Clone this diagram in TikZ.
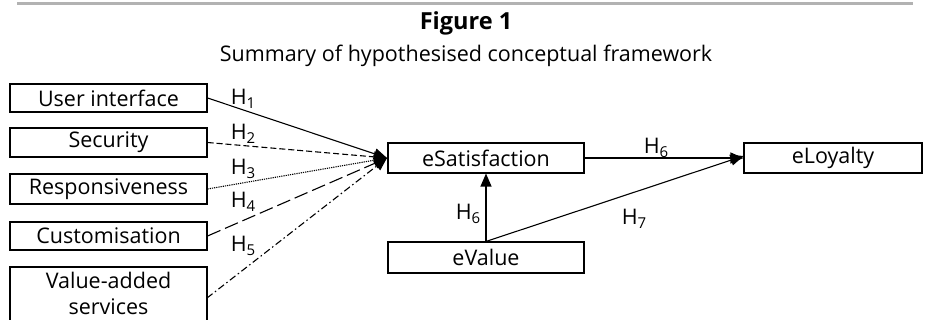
\documentclass[tikz,border=0pt]{standalone}
\usepackage{fontspec}
\setmainfont{Open Sans}
\usetikzlibrary{arrows.meta}
\newcommand{\hsub}[1]{H\raisebox{-0.4ex}{\fontsize{15}{15}\selectfont #1}}
\begin{document}
\begin{tikzpicture}[x=1pt,y=-1pt,
  box/.style={draw,line width=1.1pt,inner sep=0pt,font=\fontsize{21.5}{24}\selectfont},
  lab/.style={font=\fontsize{21.5}{24}\selectfont,inner sep=0pt},
  conn/.style={line width=1.1pt,-{Triangle[length=13pt,width=11pt]}}]
\useasboundingbox (0,0) rectangle (931,320);
\draw[line width=3pt,gray!60] (17,4) -- (913,4);
\node[font=\fontsize{23.5}{26}\selectfont\bfseries,anchor=base,inner sep=0pt] (fig) at (466,30) {Figure 1};
\node[font=\fontsize{21.5}{24}\selectfont,anchor=base,inner sep=0pt] (cap) at (466,62) {Summary of hypothesised conceptual framework};
\node[box,minimum width=197pt,minimum height=28pt] (ui) at (108.5,98) {User interface};
\node[box,minimum width=197pt,minimum height=29pt] (sec) at (108.5,142.5) {Security};
\node[box,minimum width=197pt,minimum height=30pt] (resp) at (108.5,189) {Responsiveness};
\node[box,minimum width=197pt,minimum height=28pt] (cust) at (108.5,236) {Customisation};
\coordinate (vaTL) at (10,267);
\coordinate (vaTR) at (207,267);
\draw[line width=1.1pt] (10,321) -- (vaTL) -- (vaTR) -- (207,321);
\node[lab,anchor=base] (va1) at (108.5,288) {Value-added};
\node[lab,anchor=base] (va2) at (108.5,314) {services};
\coordinate (vaR) at (207,298);
\node[box,minimum width=196pt,minimum height=30pt] (sat) at (486,158) {eSatisfaction};
\node[box,minimum width=196pt,minimum height=31pt] (val) at (486,257.5) {eValue};
\node[box,minimum width=178pt,minimum height=30pt] (loy) at (833,158) {eLoyalty};
\coordinate (tip) at (387,158);
\draw[conn] (ui.east) -- (tip);
\draw[conn,dash pattern=on 6pt off 3pt] (sec.east) -- (tip);
\draw[conn,dash pattern=on 1.2pt off 1pt] (resp.east) -- (tip);
\draw[conn,dash pattern=on 14pt off 5pt] (cust.east) -- (tip);
\draw[conn,dash pattern=on 7pt off 3pt on 1.5pt off 3pt] (vaR) -- (tip);
\draw[conn] (sat.east) -- (loy.west);
\draw[conn] (val.north) -- (sat.south);
\draw[conn] (val.north) -- ([yshift=2pt]loy.west);
\node[lab] (h1) at (243,99) {\hsub{1}};
\node[lab] (h2) at (243,134) {\hsub{2}};
\node[lab] (h3) at (243,169) {\hsub{3}};
\node[lab] (h4) at (243,202) {\hsub{4}};
\node[lab] (h5) at (243,246) {\hsub{5}};
\node[lab] (h6a) at (656,148) {\hsub{6}};
\node[lab] (h6b) at (468,214) {\hsub{6}};
\node[lab] (h7) at (634,219) {\hsub{7}};
\end{tikzpicture}
\end{document}
